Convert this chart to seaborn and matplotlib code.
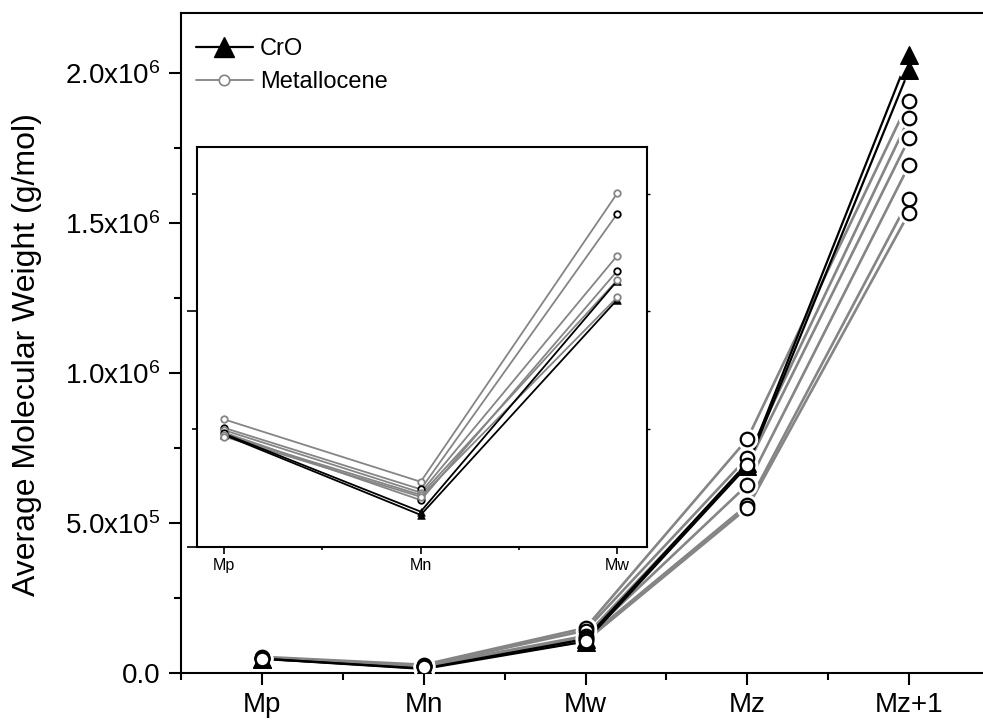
import numpy as np
import pandas as pd
import matplotlib
matplotlib.use("Agg")
import matplotlib.pyplot as plt
from matplotlib.lines import Line2D
import seaborn as sns

# Molecular-weight averages, in the order they appear along the x axis
moments = ["Mp", "Mn", "Mw", "Mz", "Mz+1"]

# Chromium-oxide resins (g/mol)
cro_1 = [48.0e3, 14.9e3, 113.0e3, 700e3, 2.060e6]
cro_2 = [47.5e3, 13.5e3, 105.0e3, 690e3, 2.010e6]

# Metallocene resins (g/mol)
met_a = [54.1e3, 27.6e3, 150.2e3, 780e3, 1.908e6]
met_b = [50.5e3, 24.4e3, 141.5e3, 718e3, 1.849e6]
met_c = [49.5e3, 23.0e3, 123.7e3, 692e3, 1.782e6]
met_d = [48.5e3, 19.8e3, 117.2e3, 627e3, 1.693e6]
met_e = [47.5e3, 22.0e3, 113.3e3, 560e3, 1.579e6]
met_f = [46.8e3, 21.2e3, 106.0e3, 550e3, 1.534e6]

series_names = ["cro_1", "cro_2", "met_a", "met_b", "met_c", "met_d", "met_e", "met_f"]
series_values = [cro_1, cro_2, met_a, met_b, met_c, met_d, met_e, met_f]
series_family = ["CrO", "CrO", "Metallocene", "Metallocene", "Metallocene",
                 "Metallocene", "Metallocene", "Metallocene"]

y_ticks = [0.0, 5.0e5, 1.0e6, 1.5e6, 2.0e6]
y_tick_labels = ["0.0", r"$\mathregular{5.0x10^{5}}$", r"$\mathregular{1.0x10^{6}}$",
                 r"$\mathregular{1.5x10^{6}}$", r"$\mathregular{2.0x10^{6}}$"]
y_label = "Average Molecular Weight (g/mol)"

inset_moments = moments[:3]

# long-form table
rows = []
for name, vals, fam in zip(series_names, series_values, series_family):
    for i, (m, v) in enumerate(zip(moments, vals)):
        rows.append({"run": name, "family": fam, "moment": m, "pos": i, "value": v})
df = pd.DataFrame(rows)

sns.set_style("ticks")
plt.rcParams["font.family"] = ["Liberation Sans", "DejaVu Sans"]
plt.rcParams["mathtext.fontset"] = "custom"
plt.rcParams["mathtext.rm"] = "Liberation Sans"
plt.rcParams["mathtext.it"] = "Liberation Sans:italic"
plt.rcParams["mathtext.bf"] = "Liberation Sans:bold"
for key in ["text.color", "axes.labelcolor", "xtick.color", "ytick.color",
            "axes.edgecolor"]:
    plt.rcParams[key] = "black"

GRAY = "#858585"
line_colors = {"CrO": "black", "Metallocene": GRAY}
line_widths = {"CrO": 1.6, "Metallocene": 1.9}

W, H = 983, 721
fig = plt.figure(figsize=(W / 100, H / 100), dpi=100)
ax = fig.add_axes([181 / W, 48 / H, 809 / W, 660 / H])

# ---- main panel ----
for fam in ["Metallocene", "CrO"]:
    sub = df[df["family"] == fam]
    sns.lineplot(data=sub, x="pos", y="value", units="run", estimator=None,
                 color=line_colors[fam], linewidth=line_widths[fam],
                 sort=False, legend=False, ax=ax, zorder=2)

# white halo so the lines stop short of each symbol
sns.scatterplot(data=df, x="pos", y="value", marker="o", s=240, color="white",
                linewidth=0, legend=False, ax=ax, zorder=3)

cro = df[df["family"] == "CrO"]
met = df[df["family"] == "Metallocene"]
sns.scatterplot(data=cro, x="pos", y="value", marker="^", s=160, color="black",
                edgecolor="black", linewidth=1, legend=False, ax=ax, zorder=4)
sns.scatterplot(data=met, x="pos", y="value", marker="o", s=95, color="white",
                edgecolor="black", linewidth=1.6, legend=False, ax=ax, zorder=5)

ax.set_xlim(-0.5, 4.5)
ax.set_ylim(0, 2.2e6)
ax.set_xticks(range(len(moments)))
ax.set_xticklabels(moments)
ax.set_xticks(np.arange(-0.5, 4.6, 1.0), minor=True)
ax.set_yticks(y_ticks)
ax.set_yticklabels(y_tick_labels)
ax.set_yticks(np.arange(2.5e5, 2.2e6, 5e5), minor=True)
ax.set_xlabel("")
ax.set_ylabel("")
for sp in ax.spines.values():
    sp.set_linewidth(1.5)
    sp.set_visible(True)
ax.tick_params(axis="both", which="major", direction="out", length=8.5, width=1.5,
               labelsize=20, colors="black")
ax.tick_params(axis="both", which="minor", direction="out", length=5, width=1.5)
ax.tick_params(axis="x", which="major", pad=5)
ax.tick_params(axis="y", which="major", pad=6)
ax.tick_params(top=False, right=False, which="both")

fig.text(27 / W, 1 - 355 / H, y_label, rotation=90, ha="center", va="center",
         fontsize=23)

handles = [
    Line2D([], [], color="black", lw=1.6, marker="^", ms=14, mfc="black", mec="black"),
    Line2D([], [], color=GRAY, lw=1.3, marker="o", ms=7.5, mfc="white", mec=GRAY, mew=1.2),
]
ax.legend(handles, ["CrO", "Metallocene"], loc="upper left",
          bbox_to_anchor=(196 / W, 1 - 38 / H), bbox_transform=fig.transFigure,
          frameon=False, fontsize=17, handlelength=2.4, handletextpad=0.3,
          labelspacing=0.48, borderpad=0, borderaxespad=0)

# ---- inset: first three averages ----
axi = fig.add_axes([196.7 / W, (H - 546.7) / H, 450 / W, 400 / H])
dfi = df[df["moment"].isin(inset_moments)]
for fam in ["Metallocene", "CrO"]:
    sub = dfi[dfi["family"] == fam]
    sns.lineplot(data=sub, x="pos", y="value", units="run", estimator=None,
                 color=line_colors[fam], linewidth=1.3, sort=False,
                 legend=False, ax=axi, zorder=2)

inset_edge = {"met_a": GRAY, "met_b": "black", "met_c": GRAY,
              "met_d": "black", "met_e": GRAY, "met_f": GRAY}
for name, col in inset_edge.items():
    sub = dfi[dfi["run"] == name]
    sns.scatterplot(data=sub, x="pos", y="value", marker="o", s=22, color="white",
                    edgecolor=col, linewidth=1.3, legend=False, ax=axi, zorder=4)
sns.scatterplot(data=dfi[dfi["family"] == "CrO"], x="pos", y="value", marker="^",
                s=30, color="black", edgecolor="black", linewidth=0.5,
                legend=False, ax=axi, zorder=3)

axi.set_xlim(-0.14, 2.15)
axi.set_ylim(0, 1.7e5)
axi.set_xticks(range(len(inset_moments)))
axi.set_xticklabels(inset_moments)
axi.set_xticks([0.5, 1.5], minor=True)
axi.set_yticks([0, 1.0e5])
axi.set_yticks([5.0e4, 1.5e5], minor=True)
axi.set_yticklabels([])
axi.set_xlabel("")
axi.set_ylabel("")
for sp in axi.spines.values():
    sp.set_linewidth(1.5)
    sp.set_visible(True)
axi.tick_params(axis="x", which="major", direction="out", length=5, width=1.2,
                labelsize=11.5, pad=3)
axi.tick_params(axis="x", which="minor", direction="out", length=2.5, width=1.2)
axi.tick_params(axis="y", which="major", direction="out", length=7, width=1.2,
                left=True, right=False)
axi.tick_params(axis="y", which="minor", direction="out", length=3.5, width=1.2,
                left=True, right=False)
axr = axi.secondary_yaxis("right")
axr.set_yticks([5.0e4, 1.0e5, 1.5e5])
axr.set_yticklabels([])
axr.tick_params(direction="out", length=1.8, width=1.0)
axr.spines["right"].set_visible(False)

fig.savefig("out.png", dpi=100)
